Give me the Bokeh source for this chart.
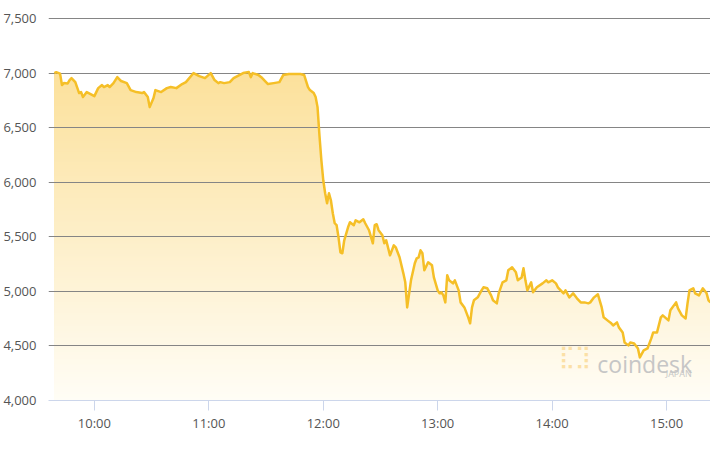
import numpy as np
from bokeh.plotting import figure
from bokeh.models import FixedTicker, NumeralTickFormatter, Label, Range1d
from bokeh.embed import file_html
from bokeh.resources import INLINE

times = [
    "09:39", "09:40", "09:42", "09:43", "09:44", "09:46", "09:47", "09:48", "09:50", "09:52",
    "09:53", "09:54", "09:56", "09:57", "10:00", "10:02", "10:04", "10:05", "10:07", "10:08",
    "10:10", "10:12", "10:14", "10:17", "10:19", "10:22", "10:25", "10:26", "10:28", "10:29",
    "10:31", "10:32", "10:35", "10:38", "10:40", "10:43", "10:46", "10:48", "10:52", "10:55",
    "10:58", "11:01", "11:03", "11:05", "11:06", "11:08", "11:11", "11:13", "11:16", "11:18",
    "11:21", "11:22", "11:23", "11:26", "11:28", "11:31", "11:34", "11:37", "11:39", "11:42",
    "11:45", "11:48", "11:50", "11:52", "11:53", "11:55", "11:56", "11:57", "11:58", "11:59",
    "12:00", "12:01", "12:02", "12:03", "12:04", "12:05", "12:06", "12:07", "12:08", "12:09",
    "12:10", "12:11", "12:13", "12:14", "12:16", "12:17", "12:19", "12:21", "12:22", "12:24",
    "12:26", "12:27", "12:28", "12:29", "12:31", "12:32", "12:33", "12:35", "12:37", "12:38",
    "12:40", "12:42", "12:43", "12:44", "12:46", "12:48", "12:49", "12:50", "12:51", "12:52",
    "12:53", "12:55", "12:57", "12:58", "13:00", "13:01", "13:02", "13:03", "13:04", "13:05",
    "13:06", "13:08", "13:09", "13:11", "13:12", "13:14", "13:15", "13:16", "13:17", "13:18",
    "13:19", "13:21", "13:23", "13:24", "13:26", "13:28", "13:29", "13:31", "13:32", "13:34",
    "13:36", "13:37", "13:39", "13:41", "13:42", "13:44", "13:45", "13:46", "13:47", "13:49",
    "13:50", "13:52", "13:55", "13:57", "13:58", "14:00", "14:02", "14:03", "14:06", "14:07",
    "14:09", "14:10", "14:11", "14:13", "14:15", "14:17", "14:19", "14:20", "14:22", "14:24",
    "14:26", "14:27", "14:29", "14:31", "14:32", "14:34", "14:35", "14:37", "14:38", "14:40",
    "14:41", "14:43", "14:45", "14:46", "14:48", "14:50", "14:52", "14:53", "14:55", "14:57",
    "14:58", "15:01", "15:02", "15:05", "15:06", "15:08", "15:10", "15:11", "15:12", "15:14",
    "15:15", "15:17", "15:19", "15:21", "15:22", "15:23",
]

prices = [
    7000, 7008, 6995, 6890, 6908, 6905, 6936, 6954, 6917, 6817,
    6826, 6780, 6826, 6817, 6789, 6862, 6890, 6872, 6890, 6872,
    6908, 6963, 6927, 6908, 6844, 6826, 6817, 6826, 6780, 6688,
    6771, 6844, 6826, 6862, 6872, 6862, 6899, 6917, 7000, 6972,
    6954, 7000, 6936, 6908, 6917, 6908, 6917, 6954, 6982, 7000,
    7009, 6963, 7000, 6982, 6954, 6899, 6908, 6917, 6982, 6991,
    6991, 6991, 6982, 6872, 6844, 6817, 6780, 6688, 6430, 6202,
    6018, 5899, 5807, 5899, 5835, 5716, 5624, 5606, 5495, 5358,
    5349, 5468, 5587, 5633, 5606, 5651, 5633, 5661, 5624, 5560,
    5440, 5606, 5615, 5560, 5514, 5440, 5468, 5330, 5422, 5404,
    5312, 5165, 5083, 4853, 5101, 5257, 5303, 5312, 5376, 5349,
    5193, 5266, 5239, 5128, 5009, 4982, 4991, 4963, 4899, 5147,
    5101, 5073, 5101, 5009, 4899, 4853, 4807, 4762, 4707, 4853,
    4918, 4945, 5009, 5037, 5028, 4963, 4918, 4890, 4982, 5083,
    5101, 5193, 5220, 5174, 5101, 5128, 5211, 5101, 5009, 5083,
    4991, 5037, 5073, 5101, 5083, 5101, 5073, 5037, 4982, 5009,
    4945, 4963, 4982, 4936, 4899, 4899, 4890, 4899, 4945, 4973,
    4853, 4762, 4734, 4707, 4688, 4716, 4670, 4624, 4532, 4505,
    4532, 4523, 4477, 4395, 4459, 4477, 4569, 4624, 4624, 4762,
    4780, 4734, 4826, 4899, 4844, 4780, 4752, 4890, 5009, 5028,
    4982, 4963, 5028, 4982, 4918, 4899,
]

y_ticks = [4000, 4500, 5000, 5500, 6000, 6500, 7000, 7500]
x_tick_hours = [10, 11, 12, 13, 14, 15]
x_tick_labels = ["10:00", "11:00", "12:00", "13:00", "14:00", "15:00"]

hours = np.array([int(t[:2]) + int(t[3:]) / 60.0 for t in times])
price = np.array(prices, dtype=float)

FONT = "Open Sans"

p = figure(width=710, height=450, output_backend="svg", toolbar_location=None,
           x_range=Range1d(9.599, 15.384), y_range=Range1d(4000, 7591.6),
           min_border_left=47, min_border_right=0, min_border_top=8, min_border_bottom=50)
p.outline_line_color = None
p.background_fill_color = "white"
p.border_fill_color = "white"

# vertical gradient fill under the line (opaque bands, drawn below grid)
top_c = np.array([251, 220, 140])
bot_c = np.array([255, 253, 246])
edges = np.arange(4000, 7121, 20)
for hi in edges[::-1][:-1]:
    lo = hi - 20
    t = (7500 - (lo + hi) / 2) / 3500.0
    c = top_c * (1 - t) + bot_c * t
    col = "#%02x%02x%02x" % tuple(int(round(v)) for v in c)
    r = p.varea(x=hours, y1=np.full_like(price, 4000.0), y2=np.minimum(price, hi),
                fill_color=col, fill_alpha=1.0)
    r.level = "image"

p.line(hours, price, line_color="#f5bf27", line_width=2.5, line_join="round")

# y axis
p.yaxis.ticker = FixedTicker(ticks=y_ticks)
p.yaxis.formatter = NumeralTickFormatter(format="0,0")
p.yaxis.axis_line_color = None
p.yaxis.major_tick_line_color = None
p.yaxis.minor_tick_line_color = None
p.yaxis.major_label_standoff = 6
p.yaxis.major_label_text_font_size = "13px"
p.yaxis.major_label_text_color = "#555555"
p.yaxis.major_label_text_font = FONT

p.ygrid.ticker = FixedTicker(ticks=y_ticks[1:])
p.ygrid.grid_line_color = "#858585"
p.ygrid.grid_line_width = 1
p.xgrid.grid_line_color = None

# x axis
p.xaxis.ticker = FixedTicker(ticks=x_tick_hours)
p.xaxis.major_label_overrides = {h: lab for h, lab in zip(x_tick_hours, x_tick_labels)}
p.xaxis.axis_line_color = "#ccd6eb"
p.xaxis.major_tick_line_color = "#ccd6eb"
p.xaxis.major_tick_out = 10
p.xaxis.major_tick_in = 0
p.xaxis.minor_tick_line_color = None
p.xaxis.major_label_standoff = 3
p.xaxis.major_label_text_font_size = "13px"
p.xaxis.major_label_text_color = "#555555"
p.xaxis.major_label_text_font = FONT

# watermark
p.add_layout(Label(x=14.2, y=4404, text="⣏⣹", text_align="center", text_baseline="middle",
                   text_font_size="22px", text_color="#fbe0a6", text_font="DejaVu Sans"))
p.add_layout(Label(x=14.395, y=4339, text="coindesk", text_align="left",
                   text_baseline="alphabetic", text_font_size="23px",
                   text_color="#c6c6c6", text_font=FONT))
p.add_layout(Label(x=15.22, y=4248, text="JAPAN", text_align="right",
                   text_baseline="alphabetic", text_font_size="9px",
                   text_color="#c6c6c6", text_font=FONT))

open("out.html", "w").write(file_html(p, INLINE))
